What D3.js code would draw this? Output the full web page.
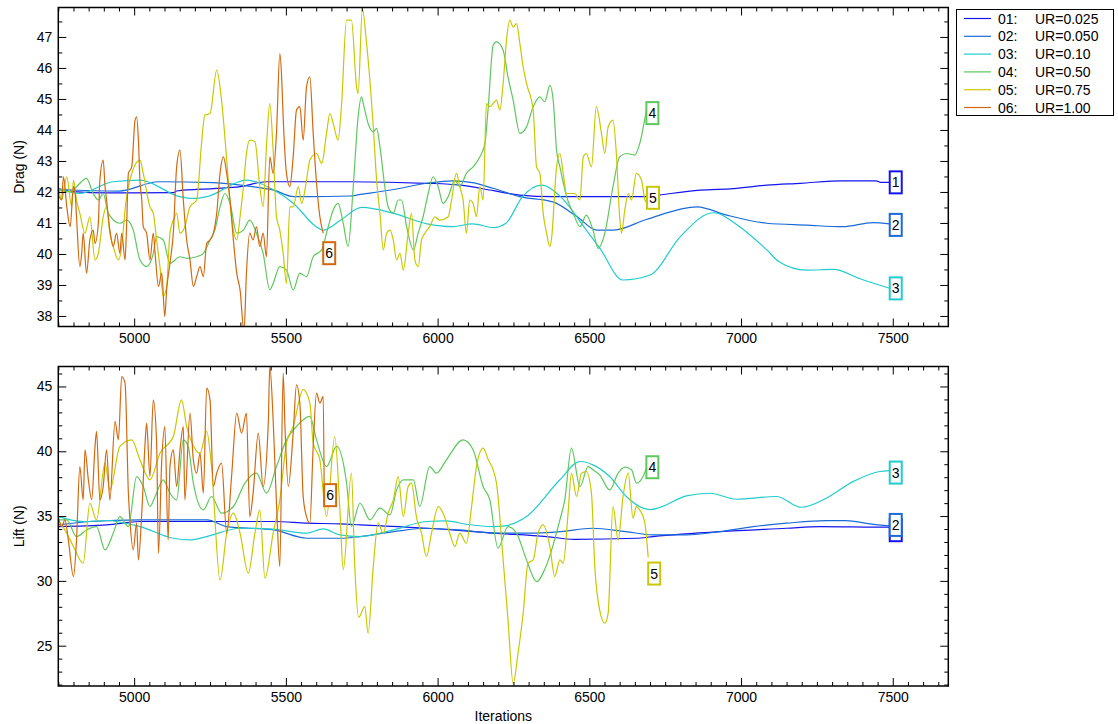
<!DOCTYPE html>
<html><head><meta charset="utf-8">
<script src="https://cdn.jsdelivr.net/npm/d3@7"></script>
<style>body{margin:0;background:#fff}svg{display:block;font-family:"Liberation Sans",Arial,Helvetica,sans-serif}</style>
</head><body><svg id="c" width="1118" height="724"></svg>
<script>
// ---------------- data ----------------
const seriesIds = ["01:", "02:", "03:", "04:", "05:", "06:"];
const seriesNames = ["UR=0.025", "UR=0.050", "UR=0.10", "UR=0.50", "UR=0.75", "UR=1.00"];
const boxLabels = ["1", "2", "3", "4", "5", "6"];
const xMajorTicks = [5000, 5500, 6000, 6500, 7000, 7500];
const dragTicks = [38, 39, 40, 41, 42, 43, 44, 45, 46, 47];
const liftTicks = [25, 30, 35, 40, 45];
const xDomain = [4750, 7683];
const dragDomain = [37.66, 47.95];
const liftDomain = [21.89, 46.54];

const drag01 = [[4750,42.11],[4800,42.01],[4910,41.97],[5130,41.98],[5140,42.03],[5260,42.11],[5350,42.17],[5435,42.33],[5710,42.33],[5965,42.28],[6075,42.22],[6185,42.04],[6270,41.90],[6380,41.85],[6690,41.85],[6730,41.90],[6865,42.06],[6975,42.11],[7085,42.22],[7195,42.28],[7335,42.36],[7445,42.36],[7460,42.31],[7490,42.31]];
const drag02 = [[4750,42.08],[4950,42.03],[5080,42.33],[5260,42.30],[5390,42.17],[5460,42.06],[5525,41.85],[5570,41.85],[5710,41.87],[5745,41.92],[5855,42.08],[5965,42.28],[6050,42.36],[6115,42.30],[6185,42.11],[6270,41.85],[6380,41.68],[6460,41.20],[6525,40.77],[6580,40.77],[6690,41.12],[6855,41.52],[6950,41.26],[7085,40.99],[7215,40.93],[7335,40.88],[7435,41.01],[7490,40.97]];
const drag03 = [[4750,42.11],[4820,41.95],[4930,42.33],[5020,42.38],[5150,41.85],[5195,41.79],[5240,41.85],[5370,42.38],[5460,42.06],[5525,41.63],[5600,40.88],[5623,40.77],[5680,41.09],[5750,41.50],[5855,41.31],[5965,40.97],[6050,40.88],[6115,40.97],[6185,40.85],[6225,40.99],[6280,41.85],[6342,42.22],[6405,41.85],[6490,40.77],[6535,40.18],[6610,39.16],[6700,39.32],[6800,40.56],[6908,41.33],[6995,40.88],[7085,40.13],[7125,39.75],[7215,39.48],[7305,39.50],[7390,39.21],[7490,38.89]];
const drag04 = [[4750,42.06],[4790,42.01],[4810,42.17],[4843,42.44],[4865,41.95],[4882,41.74],[4898,41.95],[4915,41.31],[4953,40.99],[4975,41.09],[4997,40.77],[5019,39.81],[5041,39.59],[5063,40.02],[5074,40.56],[5096,40.45],[5118,39.70],[5151,39.91],[5173,39.86],[5206,39.91],[5228,40.02],[5250,40.45],[5266,40.77],[5283,41.52],[5299,41.95],[5316,41.63],[5338,40.67],[5360,40.77],[5381,41.09],[5403,40.67],[5425,40.02],[5447,38.84],[5458,39.05],[5480,39.59],[5502,39.48],[5524,38.84],[5546,39.38],[5568,39.27],[5590,39.91],[5618,40.13],[5634,40.67],[5656,41.42],[5672,41.63],[5689,40.99],[5705,40.24],[5722,42.17],[5738,44.42],[5749,45.07],[5755,44.85],[5771,44.21],[5788,43.94],[5799,44.05],[5810,43.46],[5826,42.17],[5837,41.52],[5854,41.31],[5870,41.74],[5881,41.74],[5898,40.88],[5920,40.13],[5936,40.67],[5952,41.20],[5969,41.95],[5985,42.49],[6002,42.17],[6018,41.63],[6035,41.85],[6057,42.38],[6073,42.17],[6095,42.60],[6117,42.81],[6139,43.13],[6156,43.56],[6167,44.75],[6183,46.73],[6194,46.84],[6216,46.57],[6232,45.71],[6249,44.96],[6271,43.89],[6293,44.10],[6315,44.75],[6337,45.07],[6353,44.91],[6370,45.44],[6381,44.96],[6392,43.35],[6403,42.81],[6425,41.85],[6447,41.31],[6469,40.88],[6490,41.25],[6512,40.77],[6529,40.18],[6551,40.67],[6578,42.17],[6600,43.13],[6622,43.24],[6650,43.19],[6666,43.56],[6688,44.64]];
const drag05 = [[4750,42.17],[4761,41.74],[4778,42.49],[4794,41.52],[4800,42.38],[4810,41.74],[4821,41.31],[4838,40.67],[4854,41.20],[4871,39.81],[4882,40.02],[4898,41.20],[4909,41.52],[4920,40.67],[4931,40.24],[4948,39.81],[4959,40.24],[4970,41.42],[4981,42.17],[5019,43.03],[5030,42.60],[5052,41.52],[5063,41.31],[5074,40.45],[5085,39.59],[5096,38.63],[5107,38.95],[5118,40.67],[5129,41.09],[5140,41.31],[5151,40.67],[5167,40.88],[5184,41.52],[5206,41.74],[5222,43.56],[5233,44.48],[5250,44.53],[5272,45.93],[5288,44.96],[5305,43.03],[5316,41.63],[5327,40.77],[5338,40.45],[5349,41.20],[5360,42.17],[5370,43.24],[5381,43.67],[5398,43.62],[5414,42.17],[5425,41.52],[5436,43.46],[5447,44.85],[5458,43.35],[5469,41.20],[5480,40.77],[5491,40.02],[5502,39.05],[5513,41.52],[5524,41.52],[5541,42.17],[5552,41.63],[5568,42.38],[5579,43.03],[5601,43.24],[5618,42.92],[5634,43.89],[5645,44.53],[5656,44.21],[5672,43.67],[5683,44.75],[5700,47.54],[5716,47.54],[5733,45.39],[5738,45.17],[5752,47.90],[5766,46.79],[5788,44.10],[5799,42.38],[5810,41.31],[5821,40.13],[5832,40.67],[5843,40.77],[5854,40.45],[5865,39.81],[5876,40.02],[5887,39.48],[5903,40.67],[5914,41.31],[5925,39.81],[5936,39.59],[5947,40.45],[5958,40.67],[5974,40.88],[5991,41.20],[6007,41.09],[6035,41.20],[6046,41.74],[6062,42.60],[6073,42.17],[6084,41.74],[6095,40.67],[6106,41.74],[6117,41.63],[6128,41.20],[6139,42.17],[6150,41.74],[6161,44.85],[6172,44.75],[6183,44.85],[6194,44.96],[6205,44.64],[6216,45.50],[6227,46.89],[6238,47.54],[6249,47.32],[6260,47.43],[6271,46.79],[6282,46.03],[6293,45.50],[6315,44.64],[6326,42.81],[6337,42.60],[6348,41.31],[6359,40.67],[6370,40.24],[6375,40.45],[6392,42.81],[6403,43.24],[6414,42.60],[6425,41.95],[6436,41.95],[6452,41.95],[6469,41.74],[6480,43.13],[6490,43.24],[6507,42.81],[6523,44.75],[6540,43.89],[6551,43.24],[6562,44.10],[6578,44.32],[6589,43.24],[6600,41.20],[6606,40.67],[6617,41.42],[6628,41.95],[6639,41.74],[6655,42.60],[6672,42.38],[6683,41.74],[6690,41.65]];
const drag06 = [[4750,41.90],[4761,41.74],[4767,42.49],[4778,41.52],[4789,40.88],[4800,42.17],[4805,42.01],[4810,41.20],[4821,39.59],[4827,40.02],[4832,40.67],[4843,39.38],[4854,40.45],[4865,40.77],[4871,40.34],[4882,40.99],[4887,42.38],[4898,43.03],[4904,42.17],[4909,41.74],[4920,40.77],[4931,40.24],[4942,40.67],[4953,40.02],[4959,40.67],[4970,39.81],[4975,40.88],[4981,42.60],[4992,42.81],[5003,44.32],[5008,44.42],[5014,43.67],[5019,42.38],[5025,41.74],[5030,40.88],[5041,40.67],[5052,39.81],[5063,40.67],[5069,40.02],[5080,38.95],[5091,39.38],[5101,37.98],[5107,38.84],[5118,39.70],[5129,40.67],[5140,42.81],[5151,43.35],[5162,41.74],[5173,40.45],[5184,39.81],[5195,38.95],[5206,39.27],[5217,39.59],[5228,39.27],[5239,40.34],[5250,40.45],[5261,40.67],[5272,41.31],[5283,42.60],[5294,43.13],[5305,42.60],[5316,41.74],[5327,40.45],[5338,39.38],[5349,38.84],[5362,37.50],[5370,39.38],[5381,40.67],[5392,40.45],[5403,40.88],[5414,40.24],[5425,40.67],[5436,39.91],[5447,43.13],[5458,42.60],[5469,43.89],[5480,46.46],[5486,45.71],[5491,44.42],[5502,42.60],[5513,42.17],[5524,43.13],[5535,44.64],[5546,44.75],[5557,43.67],[5568,45.39],[5579,45.71],[5590,43.89],[5601,42.28],[5612,41.20],[5623,40.67]];

const lift01 = [[4750,34.19],[4910,34.32],[5020,34.58],[5460,34.58],[5570,34.45],[5680,34.40],[5745,34.32],[5965,34.06],[6185,33.68],[6360,33.42],[6450,33.21],[6655,33.29],[6710,33.42],[6930,33.80],[7150,34.06],[7260,34.19],[7480,34.14],[7490,34.14]];
const lift02 = [[4750,34.32],[4855,34.58],[5020,34.71],[5240,34.71],[5305,34.19],[5460,33.93],[5570,33.29],[5680,33.29],[5745,33.42],[5855,33.80],[5965,34.06],[6075,33.93],[6185,33.68],[6295,33.68],[6405,33.80],[6510,34.06],[6620,33.80],[6710,33.55],[6820,33.55],[6930,33.80],[7040,34.19],[7150,34.45],[7280,34.65],[7345,34.65],[7425,34.40],[7490,34.24]];
const lift03 = [[4750,34.96],[4832,34.58],[4909,34.66],[5019,34.19],[5129,33.29],[5184,33.16],[5239,33.42],[5349,34.06],[5458,33.99],[5568,33.68],[5623,34.01],[5678,33.55],[5744,33.42],[5854,33.93],[5963,34.58],[6029,34.63],[6095,34.37],[6183,34.19],[6227,34.27],[6293,34.96],[6403,37.80],[6469,39.21],[6512,38.95],[6567,38.05],[6622,36.51],[6677,35.61],[6700,35.50],[6732,35.66],[6820,36.56],[6897,36.76],[6985,36.30],[7116,36.51],[7199,35.68],[7281,36.38],[7369,37.66],[7457,38.44],[7490,38.51]];
const lift04 = [[4750,34.71],[4778,34.71],[4810,33.42],[4843,33.93],[4876,34.19],[4904,32.39],[4931,33.68],[4953,34.96],[4981,34.19],[5008,38.05],[5030,37.28],[5052,35.74],[5069,36.51],[5096,37.80],[5118,36.77],[5140,36.25],[5162,40.88],[5178,40.37],[5195,37.54],[5228,35.48],[5255,36.51],[5288,35.22],[5327,35.74],[5365,37.54],[5403,38.31],[5436,36.77],[5469,38.82],[5502,40.88],[5535,41.91],[5579,42.69],[5601,40.88],[5634,38.82],[5667,40.37],[5700,37.54],[5716,34.19],[5744,35.99],[5777,34.71],[5810,35.61],[5843,35.09],[5865,37.02],[5887,37.80],[5920,37.80],[5941,35.74],[5974,38.82],[5996,38.31],[6029,39.34],[6084,40.88],[6117,40.11],[6150,37.28],[6172,36.25],[6199,32.52],[6232,34.19],[6260,33.68],[6293,31.62],[6326,29.95],[6359,31.23],[6403,34.71],[6419,36.25],[6441,40.24],[6469,37.28],[6496,38.82],[6512,38.57],[6534,38.18],[6567,37.02],[6595,38.31],[6617,38.77],[6639,38.57],[6655,37.54],[6677,38.05],[6688,38.69]];
const lift05 = [[4750,34.71],[4778,33.68],[4800,32.65],[4832,31.36],[4854,35.99],[4876,34.71],[4904,39.08],[4920,37.02],[4953,40.37],[4992,40.88],[5019,39.34],[5052,37.80],[5085,39.85],[5129,41.14],[5156,43.97],[5173,41.91],[5189,40.75],[5217,39.85],[5239,41.53],[5255,38.82],[5283,30.07],[5305,33.68],[5327,35.22],[5349,33.68],[5376,30.59],[5398,33.68],[5414,35.48],[5431,30.20],[5458,33.68],[5480,36.25],[5502,40.63],[5524,41.91],[5557,44.75],[5579,43.72],[5590,40.63],[5612,39.34],[5634,34.96],[5661,41.14],[5678,35.48],[5689,30.85],[5716,38.31],[5727,31.10],[5740,27.20],[5760,28.01],[5771,25.95],[5788,31.10],[5804,34.45],[5821,33.68],[5837,35.22],[5854,36.25],[5870,38.05],[5887,34.96],[5903,37.28],[5914,37.54],[5930,34.96],[5947,33.68],[5963,31.88],[5980,33.68],[6002,35.74],[6018,35.22],[6040,33.68],[6057,32.65],[6073,33.68],[6095,32.90],[6112,35.74],[6128,38.82],[6150,40.24],[6167,39.34],[6183,38.57],[6194,37.54],[6216,31.62],[6232,26.99],[6249,22.09],[6265,24.41],[6282,27.50],[6298,31.36],[6315,31.62],[6331,33.68],[6348,34.32],[6370,32.65],[6386,30.33],[6403,31.62],[6414,31.36],[6430,35.22],[6441,38.31],[6458,36.51],[6474,38.31],[6490,38.44],[6507,36.77],[6518,31.10],[6534,27.76],[6551,26.73],[6562,27.50],[6578,35.74],[6595,33.16],[6611,36.50],[6628,38.31],[6644,34.83],[6655,35.73],[6666,35.48],[6683,34.45],[6694,31.80]];
const lift06 = [[4750,34.96],[4761,34.19],[4772,34.71],[4783,33.16],[4800,30.33],[4810,33.16],[4821,38.82],[4832,36.25],[4838,40.11],[4849,37.80],[4860,36.25],[4871,40.37],[4876,41.53],[4887,36.25],[4898,37.28],[4909,40.11],[4920,36.25],[4937,42.30],[4948,40.88],[4959,45.77],[4970,45.26],[4981,36.77],[4986,34.71],[4997,32.39],[5008,34.45],[5014,31.62],[5025,35.22],[5036,40.63],[5041,42.17],[5052,38.05],[5063,43.97],[5074,40.63],[5080,32.13],[5091,39.34],[5101,41.91],[5112,33.16],[5118,38.82],[5129,40.11],[5140,37.28],[5151,40.11],[5162,41.91],[5167,36.25],[5184,42.94],[5195,39.34],[5206,38.31],[5217,39.85],[5228,36.77],[5239,44.87],[5250,43.97],[5261,37.28],[5272,38.31],[5288,39.08],[5305,33.68],[5321,38.05],[5338,42.94],[5354,41.40],[5370,42.94],[5381,34.96],[5392,36.77],[5409,41.40],[5425,37.28],[5442,42.17],[5447,46.55],[5458,42.43],[5469,35.99],[5480,31.10],[5491,46.03],[5497,41.91],[5508,37.28],[5524,41.40],[5535,45.13],[5546,43.72],[5557,36.51],[5568,34.96],[5579,34.45],[5590,40.37],[5601,44.49],[5612,43.72],[5623,44.23],[5626,37.54]];

// ---------------- style / layout ----------------
const colors = ["#1414f0", "#1b6ad8", "#22cccc", "#5ec85e", "#c8c800", "#d2690f"];
const X0 = 58.3, X1 = 948.3;
const svg = d3.select("#c");
const x = d3.scaleLinear().domain(xDomain).range([X0, X1]);
const xMinor = d3.range(4750, xDomain[1], 50).filter(v => !xMajorTicks.includes(v));

function styleAxis(g) {
  g.select(".domain").remove();
  g.selectAll("line").attr("stroke", "#000").attr("stroke-width", 1);
  g.selectAll("text").attr("font-size", 14).attr("fill", "#000")
    .attr("font-family", '"Liberation Sans",Arial,Helvetica,sans-serif');
}

function drawPanel(p) {
  const y = d3.scaleLinear().domain(p.domain).range([p.y1, p.y0]);
  const g = svg.append("g");
  svg.append("clipPath").attr("id", "clip" + p.id).append("rect")
    .attr("x", X0).attr("y", p.y0).attr("width", X1 - X0).attr("height", p.y1 - p.y0);

  const line = d3.line().x(d => x(d[0])).y(d => y(d[1])).curve(d3.curveMonotoneX);
  const lg = g.append("g").attr("clip-path", `url(#clip${p.id})`);
  p.series.forEach((s, i) => {
    lg.append("path").attr("d", line(s)).attr("fill", "none")
      .attr("stroke", colors[i]).attr("stroke-width", 1.2).attr("stroke-linejoin", "round");
  });

  // axes (ticks inside on all four sides)
  g.append("g").attr("transform", `translate(0,${p.y1})`)
    .call(d3.axisBottom(x).tickValues(xMajorTicks).tickSize(-8).tickPadding(6.5).tickFormat(d3.format("d"))).call(styleAxis);
  g.append("g").attr("transform", `translate(0,${p.y1})`)
    .call(d3.axisBottom(x).tickValues(xMinor).tickSize(-4).tickFormat("")).call(styleAxis);
  g.append("g").attr("transform", `translate(0,${p.y0})`)
    .call(d3.axisTop(x).tickValues(xMajorTicks).tickSize(-8).tickFormat("")).call(styleAxis);
  g.append("g").attr("transform", `translate(0,${p.y0})`)
    .call(d3.axisTop(x).tickValues(xMinor).tickSize(-4).tickFormat("")).call(styleAxis);
  g.append("g").attr("transform", `translate(${X0},0)`)
    .call(d3.axisLeft(y).tickValues(p.ticks).tickSize(-8).tickPadding(6).tickFormat(d3.format("d"))).call(styleAxis);
  g.append("g").attr("transform", `translate(${X0},0)`)
    .call(d3.axisLeft(y).tickValues(p.minor).tickSize(-4).tickFormat("")).call(styleAxis);
  g.append("g").attr("transform", `translate(${X1},0)`)
    .call(d3.axisRight(y).tickValues(p.ticks).tickSize(-8).tickFormat("")).call(styleAxis);
  g.append("g").attr("transform", `translate(${X1},0)`)
    .call(d3.axisRight(y).tickValues(p.minor).tickSize(-4).tickFormat("")).call(styleAxis);

  g.append("rect").attr("x", X0).attr("y", p.y0).attr("width", X1 - X0).attr("height", p.y1 - p.y0)
    .attr("fill", "none").attr("stroke", "#000").attr("stroke-width", 1.5);

  // end labels (later boxes drawn over earlier ones; a label hidden under another box gets no text)
  p.series.forEach((s, i) => {
    const last = s[s.length - 1];
    const bx = x(last[0]) - 1, cy = y(last[1]) + p.dy[i];
    g.append("rect").attr("x", bx + 1).attr("y", cy - 11).attr("width", 12).attr("height", 22)
      .attr("fill", "#fff").attr("stroke", colors[i]).attr("stroke-width", 2);
    if (!p.hidden.includes(i)) {
      g.append("text").attr("x", bx + 7).attr("y", cy).attr("text-anchor", "middle")
        .attr("dominant-baseline", "central").attr("font-size", 14).text(boxLabels[i]);
    }
  });

  g.append("text").attr("transform", `translate(19,${(p.y0 + p.y1) / 2}) rotate(-90)`)
    .attr("text-anchor", "middle").attr("dominant-baseline", "central").attr("font-size", 14).text(p.title);
}

drawPanel({id: "top", y0: 7.5, y1: 326.5, domain: dragDomain, ticks: dragTicks,
  minor: d3.range(38.5, 47.95, 1), series: [drag01, drag02, drag03, drag04, drag05, drag06],
  dy: [0, 1, 0, 3, -5, 20], hidden: [], title: "Drag (N)"});
drawPanel({id: "bot", y0: 366.5, y1: 686, domain: liftDomain, ticks: liftTicks,
  minor: d3.range(22, 46.5, 1).filter(v => v % 5 !== 0), series: [lift01, lift02, lift03, lift04, lift05, lift06],
  dy: [3, -1, 2, -1, 16, 12], hidden: [0], title: "Lift (N)"});

svg.append("text").attr("x", (X0 + X1) / 2).attr("y", 716).attr("text-anchor", "middle")
  .attr("dominant-baseline", "central").attr("font-size", 14).text("Iterations");

// legend
const lgd = svg.append("g");
lgd.append("rect").attr("x", 956.5).attr("y", 9.5).attr("width", 157).attr("height", 106)
  .attr("fill", "#fff").attr("stroke", "#000").attr("stroke-width", 1);
seriesIds.forEach((id, i) => {
  const yy = 18.5 + i * 17.8;
  lgd.append("line").attr("x1", 964).attr("x2", 991).attr("y1", yy).attr("y2", yy)
    .attr("stroke", colors[i]).attr("stroke-width", 1.2);
  lgd.append("text").attr("x", 998).attr("y", yy).attr("dominant-baseline", "central").attr("font-size", 14).text(id);
  lgd.append("text").attr("x", 1035).attr("y", yy).attr("dominant-baseline", "central").attr("font-size", 14).text(seriesNames[i]);
});
</script></body></html>
